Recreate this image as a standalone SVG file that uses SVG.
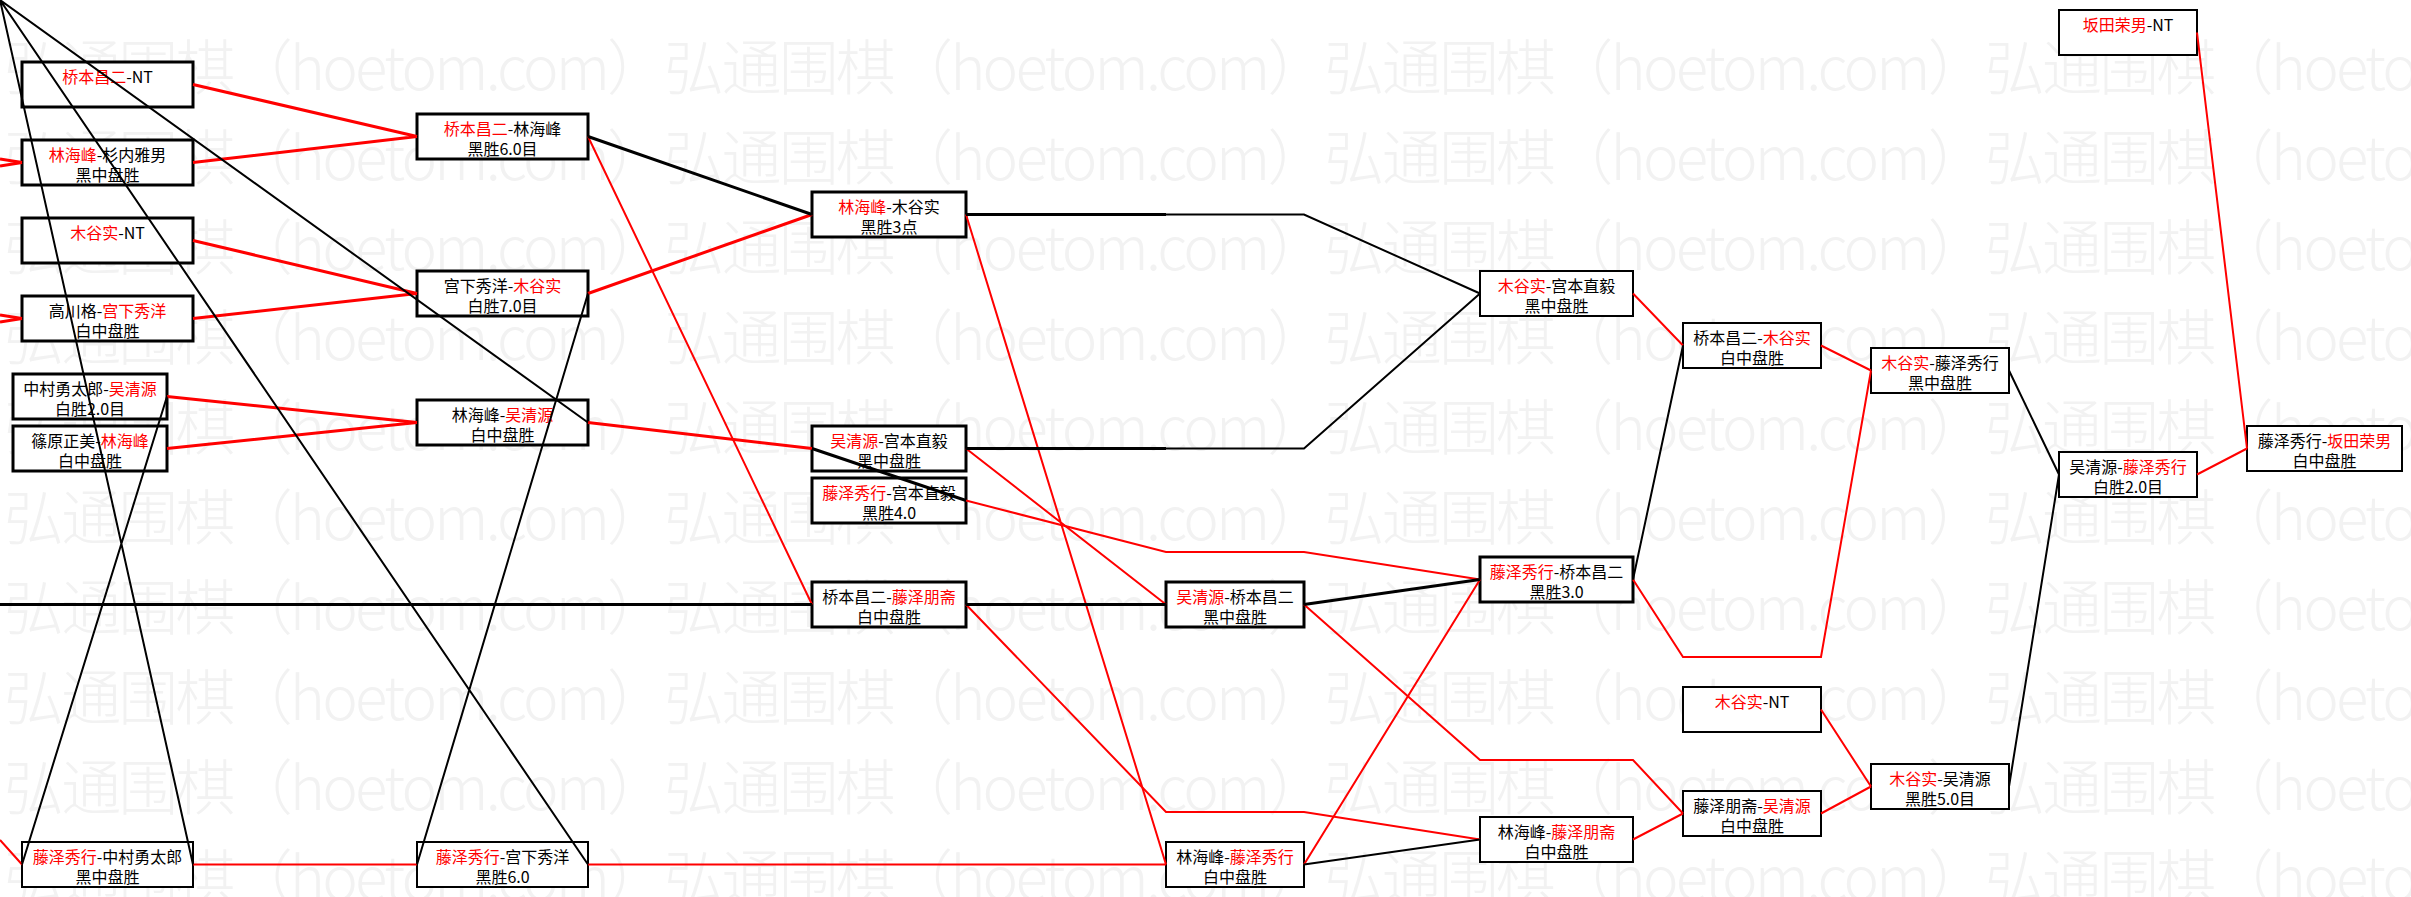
<svg xmlns="http://www.w3.org/2000/svg" width="2411" height="897" viewBox="0 0 2411 897">
<style>
.bx{fill:#fff;stroke:#000;stroke-width:3}
.tn{stroke-width:2}
text{font-family:"Noto Sans CJK SC","Noto Sans CJK JP",sans-serif;font-size:16px;text-anchor:middle;fill:#000}
.r{fill:#f00}
.wm{font-size:60px;font-weight:300;fill:#f2f2f2;text-anchor:start}
.cr{stroke:#f00;fill:none;stroke-width:2}
.cb{stroke:#000;fill:none;stroke-width:2}
.k{stroke-width:3}
</style>
<rect x="0" y="0" width="2411" height="897" fill="#fff"/>
<g id="watermark">
<text class="wm" x="4" y="90" textLength="2644" lengthAdjust="spacing">弘通围棋（hoetom.com）弘通围棋（hoetom.com）弘通围棋（hoetom.com）弘通围棋（hoetom.com）</text>
<text class="wm" x="4" y="180" textLength="2644" lengthAdjust="spacing">弘通围棋（hoetom.com）弘通围棋（hoetom.com）弘通围棋（hoetom.com）弘通围棋（hoetom.com）</text>
<text class="wm" x="4" y="270" textLength="2644" lengthAdjust="spacing">弘通围棋（hoetom.com）弘通围棋（hoetom.com）弘通围棋（hoetom.com）弘通围棋（hoetom.com）</text>
<text class="wm" x="4" y="360" textLength="2644" lengthAdjust="spacing">弘通围棋（hoetom.com）弘通围棋（hoetom.com）弘通围棋（hoetom.com）弘通围棋（hoetom.com）</text>
<text class="wm" x="4" y="450" textLength="2644" lengthAdjust="spacing">弘通围棋（hoetom.com）弘通围棋（hoetom.com）弘通围棋（hoetom.com）弘通围棋（hoetom.com）</text>
<text class="wm" x="4" y="540" textLength="2644" lengthAdjust="spacing">弘通围棋（hoetom.com）弘通围棋（hoetom.com）弘通围棋（hoetom.com）弘通围棋（hoetom.com）</text>
<text class="wm" x="4" y="630" textLength="2644" lengthAdjust="spacing">弘通围棋（hoetom.com）弘通围棋（hoetom.com）弘通围棋（hoetom.com）弘通围棋（hoetom.com）</text>
<text class="wm" x="4" y="720" textLength="2644" lengthAdjust="spacing">弘通围棋（hoetom.com）弘通围棋（hoetom.com）弘通围棋（hoetom.com）弘通围棋（hoetom.com）</text>
<text class="wm" x="4" y="810" textLength="2644" lengthAdjust="spacing">弘通围棋（hoetom.com）弘通围棋（hoetom.com）弘通围棋（hoetom.com）弘通围棋（hoetom.com）</text>
<text class="wm" x="4" y="900" textLength="2644" lengthAdjust="spacing">弘通围棋（hoetom.com）弘通围棋（hoetom.com）弘通围棋（hoetom.com）弘通围棋（hoetom.com）</text>
</g>
<g id="nodes">
<g id="a1"><rect class="bx" x="22" y="62" width="171" height="45"/><text x="107.5" y="83"><tspan class="r">桥本昌二</tspan>-NT</text></g>
<g id="a2"><rect class="bx" x="22" y="140" width="171" height="45"/><text x="107.5" y="161"><tspan class="r">林海峰</tspan>-杉内雅男</text><text x="107.5" y="181">黑中盘胜</text></g>
<g id="a3"><rect class="bx" x="22" y="218" width="171" height="45"/><text x="107.5" y="239"><tspan class="r">木谷实</tspan>-NT</text></g>
<g id="a4"><rect class="bx" x="22" y="296" width="171" height="45"/><text x="107.5" y="317">高川格-<tspan class="r">宫下秀洋</tspan></text><text x="107.5" y="337">白中盘胜</text></g>
<g id="a5"><rect class="bx" x="13" y="374" width="154" height="45"/><text x="90" y="395">中村勇太郎-<tspan class="r">吴清源</tspan></text><text x="90" y="415">白胜2.0目</text></g>
<g id="a6"><rect class="bx" x="13" y="426" width="154" height="45"/><text x="90" y="447">篠原正美-<tspan class="r">林海峰</tspan></text><text x="90" y="467">白中盘胜</text></g>
<g id="a7"><rect class="bx tn" x="22" y="842" width="171" height="45"/><text x="107.5" y="863"><tspan class="r">藤泽秀行</tspan>-中村勇太郎</text><text x="107.5" y="883">黑中盘胜</text></g>
<g id="b1"><rect class="bx" x="417" y="114" width="171" height="45"/><text x="502.5" y="135"><tspan class="r">桥本昌二</tspan>-林海峰</text><text x="502.5" y="155">黑胜6.0目</text></g>
<g id="b2"><rect class="bx" x="417" y="271" width="171" height="45"/><text x="502.5" y="292">宫下秀洋-<tspan class="r">木谷实</tspan></text><text x="502.5" y="312">白胜7.0目</text></g>
<g id="b3"><rect class="bx" x="417" y="400" width="171" height="45"/><text x="502.5" y="421">林海峰-<tspan class="r">吴清源</tspan></text><text x="502.5" y="441">白中盘胜</text></g>
<g id="b4"><rect class="bx tn" x="417" y="842" width="171" height="45"/><text x="502.5" y="863"><tspan class="r">藤泽秀行</tspan>-宫下秀洋</text><text x="502.5" y="883">黑胜6.0</text></g>
<g id="c1"><rect class="bx" x="812" y="192" width="154" height="45"/><text x="889" y="213"><tspan class="r">林海峰</tspan>-木谷实</text><text x="889" y="233">黑胜3点</text></g>
<g id="c2"><rect class="bx" x="812" y="426" width="154" height="45"/><text x="889" y="447"><tspan class="r">吴清源</tspan>-宫本直毅</text><text x="889" y="467">黑中盘胜</text></g>
<g id="c3"><rect class="bx" x="812" y="478" width="154" height="45"/><text x="889" y="499"><tspan class="r">藤泽秀行</tspan>-宫本直毅</text><text x="889" y="519">黑胜4.0</text></g>
<g id="c4"><rect class="bx" x="812" y="582" width="154" height="45"/><text x="889" y="603">桥本昌二-<tspan class="r">藤泽朋斋</tspan></text><text x="889" y="623">白中盘胜</text></g>
<g id="d3"><rect class="bx" x="1166" y="582" width="138" height="45"/><text x="1235" y="603"><tspan class="r">吴清源</tspan>-桥本昌二</text><text x="1235" y="623">黑中盘胜</text></g>
<g id="d4"><rect class="bx tn" x="1166" y="842" width="138" height="45"/><text x="1235" y="863">林海峰-<tspan class="r">藤泽秀行</tspan></text><text x="1235" y="883">白中盘胜</text></g>
<g id="e1"><rect class="bx tn" x="1480" y="271" width="153" height="45"/><text x="1556.5" y="292"><tspan class="r">木谷实</tspan>-宫本直毅</text><text x="1556.5" y="312">黑中盘胜</text></g>
<g id="e2"><rect class="bx" x="1480" y="557" width="153" height="45"/><text x="1556.5" y="578"><tspan class="r">藤泽秀行</tspan>-桥本昌二</text><text x="1556.5" y="598">黑胜3.0</text></g>
<g id="e3"><rect class="bx tn" x="1480" y="817" width="153" height="45"/><text x="1556.5" y="838">林海峰-<tspan class="r">藤泽朋斋</tspan></text><text x="1556.5" y="858">白中盘胜</text></g>
<g id="f1"><rect class="bx tn" x="1683" y="323" width="138" height="45"/><text x="1752" y="344">桥本昌二-<tspan class="r">木谷实</tspan></text><text x="1752" y="364">白中盘胜</text></g>
<g id="f2"><rect class="bx tn" x="1683" y="687" width="138" height="45"/><text x="1752" y="708"><tspan class="r">木谷实</tspan>-NT</text></g>
<g id="f3"><rect class="bx tn" x="1683" y="791" width="138" height="45"/><text x="1752" y="812">藤泽朋斋-<tspan class="r">吴清源</tspan></text><text x="1752" y="832">白中盘胜</text></g>
<g id="g1"><rect class="bx tn" x="1871" y="348" width="138" height="45"/><text x="1940" y="369"><tspan class="r">木谷实</tspan>-藤泽秀行</text><text x="1940" y="389">黑中盘胜</text></g>
<g id="g2"><rect class="bx tn" x="1871" y="764" width="138" height="45"/><text x="1940" y="785"><tspan class="r">木谷实</tspan>-吴清源</text><text x="1940" y="805">黑胜5.0目</text></g>
<g id="h1"><rect class="bx tn" x="2059" y="452" width="138" height="45"/><text x="2128" y="473">吴清源-<tspan class="r">藤泽秀行</tspan></text><text x="2128" y="493">白胜2.0目</text></g>
<g id="i1"><rect class="bx tn" x="2059" y="10" width="138" height="45"/><text x="2128" y="31"><tspan class="r">坂田荣男</tspan>-NT</text></g>
<g id="i2"><rect class="bx tn" x="2247" y="426" width="155" height="45"/><text x="2324.5" y="447">藤泽秀行-<tspan class="r">坂田荣男</tspan></text><text x="2324.5" y="467">白中盘胜</text></g>
</g>
<g id="connectors">
<path class="cr k" d="M193,84.5 L417,136.5 M193,162.5 L417,136.5 M193,240.5 L417,293.5 M193,318.5 L417,293.5 M167,396.5 L417,422.5 M167,448.5 L417,422.5 M588,293.5 L812,214.5 M588,422.5 L812,448.5 M0,159 L22,162.5 M0,166 L22,162.5 M0,315 L22,318.5 M0,322 L22,318.5"/>
<path class="cr" d="M0,840 L22,864.5 M193,864.5 L417,864.5 M588,136.5 L812,604.5 M588,864.5 L1166,864.5 M966,214.5 L1166,864.5 M966,448.5 L1166,604.5"/>
<path class="cr" d="M966,500.5 L1166,552 L1304,552 L1480,579.5"/>
<path class="cr" d="M966,604.5 L1166,812 L1304,812 L1480,839.5"/>
<path class="cr" d="M1304,604.5 L1480,760 L1633,760 L1683,813.5"/>
<path class="cr" d="M1304,864.5 L1480,579.5 M1633,293.5 L1683,345.5 M1633,839.5 L1683,813.5 M1821,345.5 L1871,370.5 M1821,709.5 L1871,786.5 M1821,813.5 L1871,786.5 M2197,474.5 L2247,448.5 M2197,32.5 L2247,448.5"/>
<path class="cr" d="M1633,579.5 L1683,657 L1821,657 L1871,370.5"/>
<path class="cb k" d="M588,136.5 L812,214.5 M0,604.5 L812,604.5 M966,604.5 L1166,604.5 M966,500.5 L812,448.5 M966,214.5 L1166,214.5 M966,448.5 L1166,448.5 M1304,604.5 L1480,579.5"/>
<path class="cb" d="M1166,214.5 L1304,214.5 L1480,293.5 M1166,448.5 L1304,448.5 L1480,293.5"/>
<path class="cb" d="M0,0 L193,864.5 M0,0 L588,864.5 M0,0 L588,422.5 M167,396.5 L22,864.5 M588,293.5 L417,864.5 M1304,864.5 L1480,839.5 M1633,579.5 L1683,345.5 M2009,370.5 L2059,474.5 M2009,786.5 L2059,474.5"/>
</g>
</svg>
